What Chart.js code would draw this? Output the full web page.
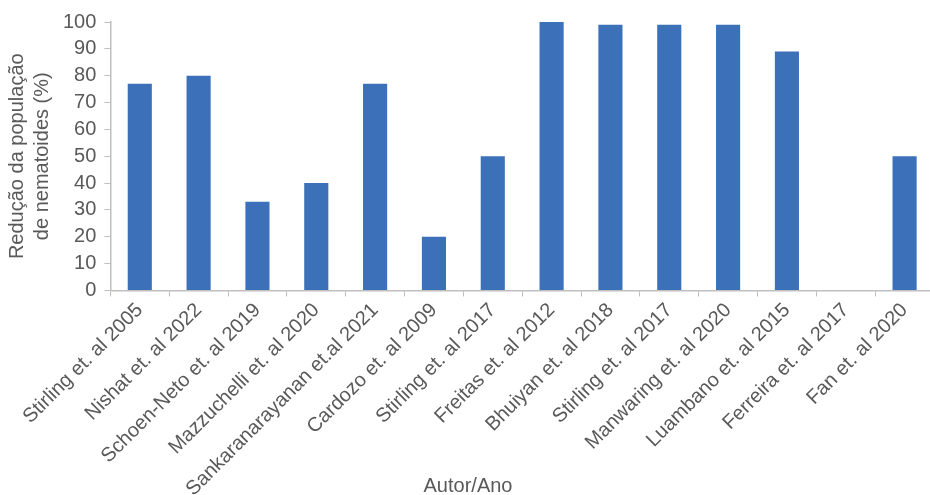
<!DOCTYPE html>
<html>
<head>
<meta charset="utf-8">
<script src="https://cdn.jsdelivr.net/npm/chart.js@4"></script>
<style>
  html, body { margin: 0; padding: 0; background: #fff; overflow: hidden; }
  #wrap { width: 930px; height: 495px; overflow: hidden; }
</style>
</head>
<body>
<div id="wrap"><canvas id="grafico" width="934" height="495"></canvas></div>
<script>
// Dados do gráfico
const autores = [
  'Stirling et. al 2005', 'Nishat et. al 2022', 'Schoen-Neto et. al 2019',
  'Mazzuchelli et. al 2020', 'Sankaranarayanan et.al 2021', 'Cardozo et. al 2009',
  'Stirling et. al 2017', 'Freitas et. al 2012', 'Bhuiyan et. al 2018',
  'Stirling et. al 2017', 'Manwaring et. al 2020', 'Luambano et. al 2015',
  'Ferreira et. al 2017', 'Fan et. al 2020'
];
const reducao = [77, 80, 33, 40, 77, 20, 50, 100, 99, 99, 99, 89, 0, 50];
const tituloY = ['Redução da população', 'de nematoides (%)'];
const tituloX = 'Autor/Ano';

const fonte = 'Arial, "Liberation Sans", sans-serif';
const cinzaTexto = '#595959';
const cinzaEixo = '#bfbfbf';

Chart.defaults.font.family = fonte;
Chart.defaults.color = cinzaTexto;

const ctx = document.getElementById('grafico').getContext('2d');
new Chart(ctx, {
  type: 'bar',
  data: {
    labels: autores,
    datasets: [{
      data: reducao,
      backgroundColor: '#3c70b8',
      categoryPercentage: 1,
      barPercentage: 0.41
    }]
  },
  options: {
    responsive: false,
    animation: false,
    // margem inferior negativa para ganhar espaço para os rótulos inclinados
    layout: { padding: { top: 22, left: 2, right: 0, bottom: -8 } },
    plugins: {
      legend: { display: false },
      tooltip: { enabled: false },
      title: {
        display: true,
        position: 'bottom',
        text: tituloX,
        color: cinzaTexto,
        font: { size: 20, weight: 'normal', lineHeight: 1.2 },
        padding: { top: -29, bottom: 5 }
      }
    },
    scales: {
      x: {
        grid: {
          display: true,
          offset: true,
          drawOnChartArea: false,
          drawTicks: true,
          tickLength: 6,
          color: cinzaEixo
        },
        border: { display: true, color: cinzaEixo, width: 1.5 },
        ticks: {
          autoSkip: false,
          maxRotation: 45,
          minRotation: 45,
          padding: 2,
          color: cinzaTexto,
          font: { size: 20 }
        }
      },
      y: {
        min: 0,
        max: 100,
        grid: {
          display: true,
          drawOnChartArea: false,
          drawTicks: true,
          tickLength: 6,
          color: cinzaEixo
        },
        border: { display: true, color: cinzaEixo, width: 1.5 },
        ticks: {
          stepSize: 10,
          autoSkip: false,
          padding: 8,
          color: cinzaTexto,
          font: { size: 20 }
        },
        title: {
          display: true,
          text: tituloY,
          color: cinzaTexto,
          font: { size: 20, lineHeight: 1.25 },
          padding: { top: 3, bottom: 0 }
        }
      }
    }
  }
});
</script>
</body>
</html>
